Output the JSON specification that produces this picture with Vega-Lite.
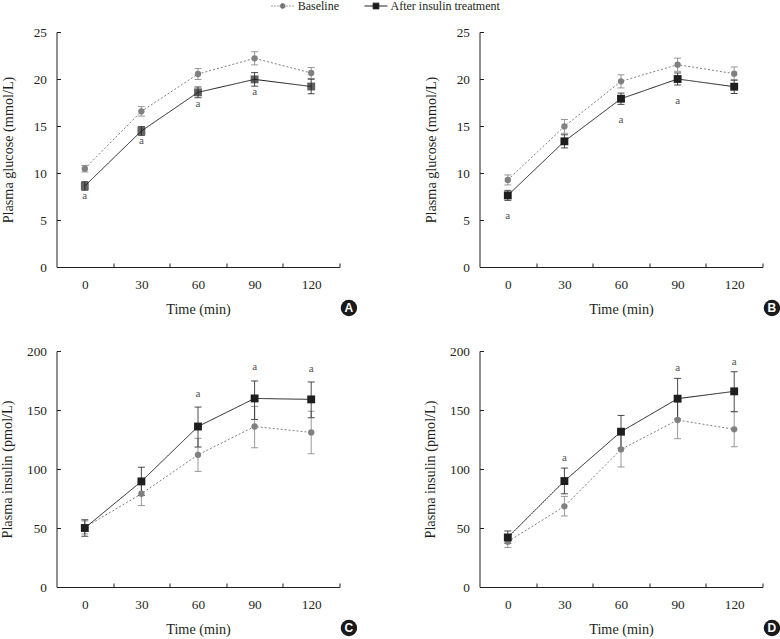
{
  "$schema": "https://vega.github.io/schema/vega-lite/v6.json",
  "padding": {"left": 0.5, "top": 0, "right": 0, "bottom": 0},
  "background": "white",
  "datasets": {
    "A": [
      {"time": 0, "group": "Baseline", "mean": 10.46, "lo": 10.11, "hi": 10.81, "sig": ""},
      {"time": 30, "group": "Baseline", "mean": 16.56, "lo": 16.06, "hi": 17.06, "sig": ""},
      {"time": 60, "group": "Baseline", "mean": 20.53, "lo": 19.95, "hi": 21.11, "sig": ""},
      {"time": 90, "group": "Baseline", "mean": 22.2, "lo": 21.5, "hi": 22.9, "sig": ""},
      {"time": 120, "group": "Baseline", "mean": 20.64, "lo": 20.06, "hi": 21.22, "sig": ""},
      {"time": 0, "group": "After insulin treatment", "mean": 8.62, "lo": 8.16, "hi": 9.08, "sig": "a"},
      {"time": 30, "group": "After insulin treatment", "mean": 14.47, "lo": 14.0, "hi": 14.94, "sig": "a"},
      {"time": 60, "group": "After insulin treatment", "mean": 18.58, "lo": 18.01, "hi": 19.15, "sig": "a"},
      {"time": 90, "group": "After insulin treatment", "mean": 19.96, "lo": 19.24, "hi": 20.68, "sig": "a"},
      {"time": 120, "group": "After insulin treatment", "mean": 19.2, "lo": 18.43, "hi": 19.97, "sig": ""}
    ],
    "B": [
      {"time": 0, "group": "Baseline", "mean": 9.26, "lo": 8.73, "hi": 9.79, "sig": ""},
      {"time": 30, "group": "Baseline", "mean": 14.96, "lo": 14.23, "hi": 15.69, "sig": ""},
      {"time": 60, "group": "Baseline", "mean": 19.75, "lo": 19.05, "hi": 20.45, "sig": ""},
      {"time": 90, "group": "Baseline", "mean": 21.52, "lo": 20.82, "hi": 22.22, "sig": ""},
      {"time": 120, "group": "Baseline", "mean": 20.57, "lo": 19.87, "hi": 21.27, "sig": ""},
      {"time": 0, "group": "After insulin treatment", "mean": 7.62, "lo": 7.09, "hi": 8.15, "sig": "a"},
      {"time": 30, "group": "After insulin treatment", "mean": 13.37, "lo": 12.67, "hi": 14.07, "sig": ""},
      {"time": 60, "group": "After insulin treatment", "mean": 17.9, "lo": 17.3, "hi": 18.5, "sig": "a"},
      {"time": 90, "group": "After insulin treatment", "mean": 20.0, "lo": 19.36, "hi": 20.64, "sig": "a"},
      {"time": 120, "group": "After insulin treatment", "mean": 19.18, "lo": 18.46, "hi": 19.9, "sig": ""}
    ],
    "C": [
      {"time": 0, "group": "Baseline", "mean": 50.5, "lo": 45, "hi": 56, "sig": ""},
      {"time": 30, "group": "Baseline", "mean": 79, "lo": 69, "hi": 89, "sig": ""},
      {"time": 60, "group": "Baseline", "mean": 112, "lo": 98, "hi": 126, "sig": ""},
      {"time": 90, "group": "Baseline", "mean": 136, "lo": 118, "hi": 153, "sig": ""},
      {"time": 120, "group": "Baseline", "mean": 131, "lo": 113, "hi": 149, "sig": ""},
      {"time": 0, "group": "After insulin treatment", "mean": 50, "lo": 43, "hi": 57, "sig": ""},
      {"time": 30, "group": "After insulin treatment", "mean": 89.5, "lo": 77.5, "hi": 101.5, "sig": ""},
      {"time": 60, "group": "After insulin treatment", "mean": 136, "lo": 118.6, "hi": 152.5, "sig": "a"},
      {"time": 90, "group": "After insulin treatment", "mean": 159.8, "lo": 142, "hi": 174.6, "sig": "a"},
      {"time": 120, "group": "After insulin treatment", "mean": 159, "lo": 143.5, "hi": 173.7, "sig": "a"}
    ],
    "D": [
      {"time": 0, "group": "Baseline", "mean": 38.4, "lo": 33.5, "hi": 43.3, "sig": ""},
      {"time": 30, "group": "Baseline", "mean": 68.4, "lo": 60.2, "hi": 76.8, "sig": ""},
      {"time": 60, "group": "Baseline", "mean": 116.6, "lo": 101.7, "hi": 131.5, "sig": ""},
      {"time": 90, "group": "Baseline", "mean": 141.5, "lo": 125.7, "hi": 157.3, "sig": ""},
      {"time": 120, "group": "Baseline", "mean": 133.6, "lo": 118.9, "hi": 148.3, "sig": ""},
      {"time": 0, "group": "After insulin treatment", "mean": 42, "lo": 37, "hi": 47.5, "sig": ""},
      {"time": 30, "group": "After insulin treatment", "mean": 89.8, "lo": 79, "hi": 100.8, "sig": "a"},
      {"time": 60, "group": "After insulin treatment", "mean": 131.6, "lo": 117.6, "hi": 145.4, "sig": ""},
      {"time": 90, "group": "After insulin treatment", "mean": 159.6, "lo": 142.4, "hi": 176.8, "sig": "a"},
      {"time": 120, "group": "After insulin treatment", "mean": 165.8, "lo": 148.8, "hi": 182.5, "sig": "a"}
    ]
  },
  "columns": 2,
  "spacing": {"row": 27, "column": 66},
  "concat": [
    {
      "width": 283, "height": 235,
      "layer": [
        {"data": {"name": "A"},
         "mark": {"type": "errorbar", "ticks": {"size": 7}, "thickness": 1, "opacity": 0.8},
         "encoding": {
           "x": {"field": "time", "type": "quantitative", "scale": {"domain": [-15, 135], "nice": false, "zero": false},
                 "axis": {"values": [0, 30, 60, 90, 120], "tickOffset": 28.3, "labelOffset": -28.3, "labelFlush": false, "title": "Time (min)"}},
           "y": {"field": "lo", "type": "quantitative", "scale": {"domain": [0, 25], "nice": false},
                 "axis": {"values": [0, 5, 10, 15, 20, 25], "title": "Plasma glucose (mmol/L)", "titlePadding": 18}},
           "y2": {"field": "hi"},
           "color": {"field": "group", "type": "nominal", "scale": {"range": ["#1e1e1e", "#808080"]}, "legend": null}
         }},
        {"data": {"name": "A"},
         "mark": {"type": "line", "strokeWidth": 1},
         "encoding": {
           "x": {"field": "time", "type": "quantitative"},
           "y": {"field": "mean", "type": "quantitative"},
           "color": {"field": "group", "type": "nominal", "legend": null},
           "strokeDash": {"field": "group", "type": "nominal", "scale": {"range": [[1, 0], [2, 2]]}, "legend": null}}},
        {"data": {"name": "A"},
         "transform": [{"filter": "datum.group === 'Baseline'"}],
         "mark": {"type": "point", "filled": true},
         "encoding": {
           "x": {"field": "time", "type": "quantitative"},
           "y": {"field": "mean", "type": "quantitative"},
           "color": {"field": "group", "type": "nominal", "legend": null},
           "shape": {"field": "group", "type": "nominal", "scale": {"range": ["square", "circle"]}, "legend": null},
           "size": {"field": "group", "type": "nominal", "scale": {"range": [62, 40]}, "legend": null},
           "opacity": {"field": "group", "type": "nominal", "scale": {"domain": ["Baseline"], "range": [1]},
                       "legend": {"orient": "none", "legendX": 220.2, "legendY": -32, "direction": "horizontal", "title": null,
                                  "symbolSize": 121, "labelOffset": 9,
                                  "symbolType": "M-2.09,0H2.09M-0.48,0A0.48,0.48,0,1,0,0.48,0A0.48,0.48,0,1,0,-0.48,0Z",
                                  "symbolFillColor": "#737373", "symbolStrokeColor": "#8c8c8c",
                                  "symbolDash": [1.5, 1.5], "symbolStrokeWidth": 1, "symbolOpacity": 1}}}},
        {"data": {"name": "A"},
         "transform": [{"filter": "datum.group !== 'Baseline'"}],
         "mark": {"type": "point", "filled": true},
         "encoding": {
           "x": {"field": "time", "type": "quantitative"},
           "y": {"field": "mean", "type": "quantitative"},
           "color": {"field": "group", "type": "nominal", "legend": null},
           "shape": {"field": "group", "type": "nominal", "legend": null},
           "size": {"field": "group", "type": "nominal", "legend": null},
           "strokeWidth": {"field": "group", "type": "nominal", "scale": {"domain": ["After insulin treatment"], "range": [1]},
                       "legend": {"orient": "none", "legendX": 334, "legendY": -26, "direction": "horizontal", "title": null,
                                  "symbolSize": 529, "labelOffset": 3,
                                  "symbolType": "M-2.261,0H-0.261M-1.511,-0.25H-1.011V0.25H-1.511Z",
                                  "symbolFillColor": "#161616", "symbolStrokeColor": "#262626",
                                  "symbolStrokeWidth": 1, "symbolOpacity": 1}}}},
        {"data": {"name": "A"},
         "transform": [{"filter": "datum.sig != ''"}],
         "mark": {"type": "text", "dy": 9, "fontSize": 11, "font": "Liberation Serif", "color": "#555555", "baseline": "alphabetic"},
         "encoding": {"x": {"field": "time", "type": "quantitative"}, "y": {"field": "lo", "type": "quantitative"}, "text": {"field": "sig"}}},
        {"data": {"values": [{"panel": "A"}]},
         "mark": {"type": "point", "shape": "circle", "filled": true, "size": 270, "opacity": 1, "color": "#1a1a1a"},
         "encoding": {"x": {"datum": 140}, "y": {"datum": -4.36}}},
        {"data": {"values": [{"panel": "A"}]},
         "mark": {"type": "text", "font": "Liberation Sans", "fontWeight": "bold", "fontSize": 12, "baseline": "middle", "color": "#ffffff"},
         "encoding": {"x": {"datum": 140}, "y": {"datum": -4.36}, "text": {"field": "panel"}}}
      ]
    },
    {
      "width": 283, "height": 235,
      "layer": [
        {"data": {"name": "B"},
         "mark": {"type": "errorbar", "ticks": {"size": 7}, "thickness": 1, "opacity": 0.8},
         "encoding": {
           "x": {"field": "time", "type": "quantitative", "scale": {"domain": [-15, 135], "nice": false, "zero": false},
                 "axis": {"values": [0, 30, 60, 90, 120], "tickOffset": 28.3, "labelOffset": -28.3, "labelFlush": false, "title": "Time (min)"}},
           "y": {"field": "lo", "type": "quantitative", "scale": {"domain": [0, 25], "nice": false},
                 "axis": {"values": [0, 5, 10, 15, 20, 25], "title": "Plasma glucose (mmol/L)", "titlePadding": 18}},
           "y2": {"field": "hi"},
           "color": {"field": "group", "type": "nominal", "legend": null}}},
        {"data": {"name": "B"},
         "mark": {"type": "line", "strokeWidth": 1},
         "encoding": {
           "x": {"field": "time", "type": "quantitative"},
           "y": {"field": "mean", "type": "quantitative"},
           "color": {"field": "group", "type": "nominal", "legend": null},
           "strokeDash": {"field": "group", "type": "nominal", "legend": null}}},
        {"data": {"name": "B"},
         "mark": {"type": "point", "filled": true, "opacity": 1},
         "encoding": {
           "x": {"field": "time", "type": "quantitative"},
           "y": {"field": "mean", "type": "quantitative"},
           "color": {"field": "group", "type": "nominal", "legend": null},
           "shape": {"field": "group", "type": "nominal", "legend": null},
           "size": {"field": "group", "type": "nominal", "legend": null}}},
        {"data": {"name": "B"},
         "transform": [{"filter": "datum.sig != ''"}],
         "mark": {"type": "text", "dy": 19, "fontSize": 11, "font": "Liberation Serif", "color": "#555555", "baseline": "alphabetic"},
         "encoding": {"x": {"field": "time", "type": "quantitative"}, "y": {"field": "lo", "type": "quantitative"}, "text": {"field": "sig"}}},
        {"data": {"values": [{"panel": "B"}]},
         "mark": {"type": "point", "shape": "circle", "filled": true, "size": 270, "opacity": 1, "color": "#1a1a1a"},
         "encoding": {"x": {"datum": 140}, "y": {"datum": -4.36}}},
        {"data": {"values": [{"panel": "B"}]},
         "mark": {"type": "text", "font": "Liberation Sans", "fontWeight": "bold", "fontSize": 12, "baseline": "middle", "color": "#ffffff"},
         "encoding": {"x": {"datum": 140}, "y": {"datum": -4.36}, "text": {"field": "panel"}}}
      ]
    },
    {
      "width": 283, "height": 236,
      "layer": [
        {"data": {"name": "C"},
         "mark": {"type": "errorbar", "ticks": {"size": 7}, "thickness": 1, "opacity": 0.8},
         "encoding": {
           "x": {"field": "time", "type": "quantitative", "scale": {"domain": [-15, 135], "nice": false, "zero": false},
                 "axis": {"values": [0, 30, 60, 90, 120], "tickOffset": 28.3, "labelOffset": -28.3, "labelFlush": false, "title": "Time (min)"}},
           "y": {"field": "lo", "type": "quantitative", "scale": {"domain": [0, 200], "nice": false},
                 "axis": {"values": [0, 50, 100, 150, 200], "title": "Plasma insulin (pmol/L)", "titlePadding": 12}},
           "y2": {"field": "hi"},
           "color": {"field": "group", "type": "nominal", "legend": null}}},
        {"data": {"name": "C"},
         "mark": {"type": "line", "strokeWidth": 1},
         "encoding": {
           "x": {"field": "time", "type": "quantitative"},
           "y": {"field": "mean", "type": "quantitative"},
           "color": {"field": "group", "type": "nominal", "legend": null},
           "strokeDash": {"field": "group", "type": "nominal", "legend": null}}},
        {"data": {"name": "C"},
         "mark": {"type": "point", "filled": true, "opacity": 1},
         "encoding": {
           "x": {"field": "time", "type": "quantitative"},
           "y": {"field": "mean", "type": "quantitative"},
           "color": {"field": "group", "type": "nominal", "legend": null},
           "shape": {"field": "group", "type": "nominal", "legend": null},
           "size": {"field": "group", "type": "nominal", "legend": null}}},
        {"data": {"name": "C"},
         "transform": [{"filter": "datum.sig != ''"}],
         "mark": {"type": "text", "dy": -10.5, "fontSize": 11, "font": "Liberation Serif", "color": "#555555", "baseline": "alphabetic"},
         "encoding": {"x": {"field": "time", "type": "quantitative"}, "y": {"field": "hi", "type": "quantitative"}, "text": {"field": "sig"}}},
        {"data": {"values": [{"panel": "C"}]},
         "mark": {"type": "point", "shape": "circle", "filled": true, "size": 270, "opacity": 1, "color": "#1a1a1a"},
         "encoding": {"x": {"datum": 140}, "y": {"datum": -34.7}}},
        {"data": {"values": [{"panel": "C"}]},
         "mark": {"type": "text", "font": "Liberation Sans", "fontWeight": "bold", "fontSize": 12, "baseline": "middle", "color": "#ffffff"},
         "encoding": {"x": {"datum": 140}, "y": {"datum": -34.7}, "text": {"field": "panel"}}}
      ]
    },
    {
      "width": 283, "height": 236,
      "layer": [
        {"data": {"name": "D"},
         "mark": {"type": "errorbar", "ticks": {"size": 7}, "thickness": 1, "opacity": 0.8},
         "encoding": {
           "x": {"field": "time", "type": "quantitative", "scale": {"domain": [-15, 135], "nice": false, "zero": false},
                 "axis": {"values": [0, 30, 60, 90, 120], "tickOffset": 28.3, "labelOffset": -28.3, "labelFlush": false, "title": "Time (min)"}},
           "y": {"field": "lo", "type": "quantitative", "scale": {"domain": [0, 200], "nice": false},
                 "axis": {"values": [0, 50, 100, 150, 200], "title": "Plasma insulin (pmol/L)", "titlePadding": 12}},
           "y2": {"field": "hi"},
           "color": {"field": "group", "type": "nominal", "legend": null}}},
        {"data": {"name": "D"},
         "mark": {"type": "line", "strokeWidth": 1},
         "encoding": {
           "x": {"field": "time", "type": "quantitative"},
           "y": {"field": "mean", "type": "quantitative"},
           "color": {"field": "group", "type": "nominal", "legend": null},
           "strokeDash": {"field": "group", "type": "nominal", "legend": null}}},
        {"data": {"name": "D"},
         "mark": {"type": "point", "filled": true, "opacity": 1},
         "encoding": {
           "x": {"field": "time", "type": "quantitative"},
           "y": {"field": "mean", "type": "quantitative"},
           "color": {"field": "group", "type": "nominal", "legend": null},
           "shape": {"field": "group", "type": "nominal", "legend": null},
           "size": {"field": "group", "type": "nominal", "legend": null}}},
        {"data": {"name": "D"},
         "transform": [{"filter": "datum.sig != ''"}],
         "mark": {"type": "text", "dy": -7, "fontSize": 11, "font": "Liberation Serif", "color": "#555555", "baseline": "alphabetic"},
         "encoding": {"x": {"field": "time", "type": "quantitative"}, "y": {"field": "hi", "type": "quantitative"}, "text": {"field": "sig"}}},
        {"data": {"values": [{"panel": "D"}]},
         "mark": {"type": "point", "shape": "circle", "filled": true, "size": 270, "opacity": 1, "color": "#1a1a1a"},
         "encoding": {"x": {"datum": 140}, "y": {"datum": -34.7}}},
        {"data": {"values": [{"panel": "D"}]},
         "mark": {"type": "text", "font": "Liberation Sans", "fontWeight": "bold", "fontSize": 12, "baseline": "middle", "color": "#ffffff"},
         "encoding": {"x": {"datum": 140}, "y": {"datum": -34.7}, "text": {"field": "panel"}}}
      ]
    }
  ],
  "config": {
    "view": {"stroke": null},
    "axis": {
      "labelFont": "Liberation Serif", "titleFont": "Liberation Serif",
      "labelFontSize": 13.3, "titleFontSize": 14.2, "titleFontWeight": "normal",
      "labelColor": "#231f20", "titleColor": "#231f20",
      "domainColor": "#231f20", "tickColor": "#231f20", "domainWidth": 1, "tickWidth": 1,
      "grid": false, "tickSize": -4
    },
    "axisX": {"labelPadding": 14, "titlePadding": 12},
    "axisY": {"labelPadding": 14},
    "legend": {
      "padding": 0, "labelFont": "Liberation Serif", "labelFontSize": 12, "labelColor": "#231f20"
    }
  }
}
